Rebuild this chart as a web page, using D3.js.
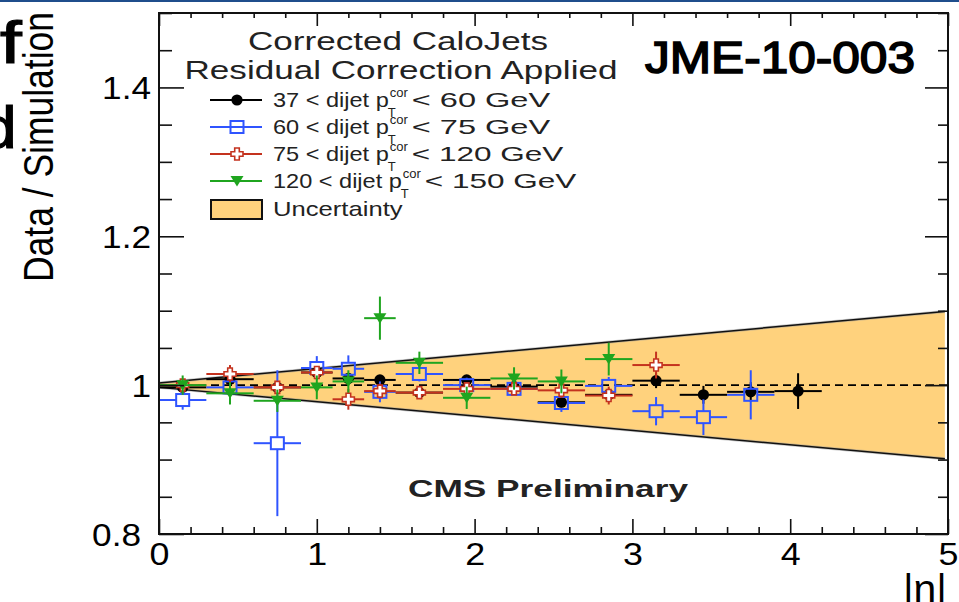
<!DOCTYPE html>
<html><head><meta charset="utf-8">
<script src="https://cdn.jsdelivr.net/npm/d3@7"></script>
<style>
body{margin:0;background:#fff;}
svg{display:block;}
text{font-family:"Liberation Sans",Arial,Helvetica,sans-serif;}
</style>
</head><body>
<svg id="c" width="959" height="602"></svg>
<script>
// ---------------- data ----------------
const etaBins       = [0.15,0.45,0.75,1.0,1.2,1.4,1.65,1.95,2.25,2.55,2.85,3.15,3.45,3.75,4.05];
const etaHalfWidth  = [0.15,0.15,0.15,0.1,0.1,0.1,0.15,0.15,0.15,0.15,0.15,0.15,0.15,0.15,0.15];

const pt37to60   = [0.997,1.008,0.997,1.017,1.009,1.007,0.990,1.007,0.998,0.977,0.987,1.006,0.987,0.991,0.992];
const pt37to60E  = [0.004,0.004,0.005,0.005,0.005,0.006,0.006,0.006,0.006,0.007,0.008,0.010,0.012,0.013,0.024];
const pt60to75   = [0.980,0.997,0.922,1.023,1.022,0.991,1.015,1.000,0.995,0.976,0.999,0.965,0.957,0.987,null];
const pt60to75E  = [0.013,0.010,0.098,0.016,0.018,0.014,0.010,0.010,0.008,0.012,0.012,0.019,0.024,0.033,null];
const pt75to120  = [1.000,1.015,0.997,1.017,0.981,0.992,0.990,0.995,0.995,0.993,0.986,1.027,null,null,null];
const pt75to120E = [0.005,0.012,0.006,0.008,0.014,0.010,0.007,0.008,0.008,0.010,0.012,0.018,null,null,null];
const pt120to150 = [1.000,0.989,0.979,0.997,1.005,1.090,1.030,0.983,1.009,1.005,1.035,null,null,null,null];
const pt120to150E= [0.013,0.015,0.015,0.016,0.015,0.029,0.015,0.015,0.015,0.016,0.022,null,null,null,null];

const bandEta   = [0, 4.98];
const bandUpper = [1.003, 1.099];
const bandLower = [0.997, 0.901];

const xTickLabels = [0,1,2,3,4,5];
const yTickLabels = [0.8,1,1.2,1.4];

const seriesNames = ["37 < dijet p", "60 < dijet p", "75 < dijet p", "120 < dijet p"];
const seriesTails = ["< 60 GeV", "< 75 GeV", "< 120 GeV", "< 150 GeV"];

// ---------------- layout ----------------
const W=959,H=602;
const X0=159,X1=948,Y0=13,Y1=534;
const x=d3.scaleLinear().domain([0,5]).range([X0,X1]);
const y=d3.scaleLinear().domain([0.8,1.5]).range([Y1,Y0]);
const svg=d3.select("#c");
const BAND="#ffd27d";
const COLORS=["#000000","#2f54ff","#c4321e","#1fa51f"];
const MARKERS=["circle","square","cross","tri"];

function stretch(sel,k){
  sel.each(function(){
    const w=this.getComputedTextLength();
    d3.select(this).attr("textLength",w*k).attr("lengthAdjust","spacingAndGlyphs");
  });
  return sel;
}
function fitTo(sel,len){ return sel.attr("textLength",len).attr("lengthAdjust","spacingAndGlyphs"); }

svg.append("rect").attr("width",W).attr("height",H).attr("fill","#fff");
svg.append("rect").attr("x",0).attr("y",0).attr("width",W).attr("height",2).attr("fill","#1f4e8c");

// band
const bandPts=bandEta.map((e,i)=>({e,u:bandUpper[i],l:bandLower[i]}));
svg.append("path").datum(bandPts)
  .attr("d",d3.area().x(d=>x(d.e)).y0(d=>y(d.l)).y1(d=>y(d.u)))
  .attr("fill",BAND);
["u","l"].forEach(k=>{
  svg.append("path").datum(bandPts)
    .attr("d",d3.line().x(d=>x(d.e)).y(d=>y(d[k])))
    .attr("fill","none").attr("stroke","#999").attr("stroke-width",3).attr("opacity",0.5);
  svg.append("path").datum(bandPts)
    .attr("d",d3.line().x(d=>x(d.e)).y(d=>y(d[k])))
    .attr("fill","none").attr("stroke","#111").attr("stroke-width",1.5);
});

// dashed unity line
svg.append("line").attr("x1",x(0)).attr("x2",x(5)).attr("y1",y(1)).attr("y2",y(1))
  .attr("stroke","#000").attr("stroke-width",1.6).attr("stroke-dasharray","8,5");

// markers
function drawMarker(g,type,color,cx,cy){
  if(type==="circle"){
    g.append("circle").attr("cx",cx).attr("cy",cy).attr("r",5.6).attr("fill",color);
  } else if(type==="square"){
    g.append("rect").attr("x",cx-6.5).attr("y",cy-6).attr("width",13).attr("height",12)
      .attr("fill","none").attr("stroke",color).attr("stroke-width",2);
  } else if(type==="cross"){
    const p="M-2.3,-6h4.6v3.7h3.7v4.6h-3.7v3.7h-4.6v-3.7h-3.7v-4.6h3.7z";
    g.append("path").attr("d",p).attr("transform",`translate(${cx},${cy})`)
      .attr("fill","#fff").attr("stroke",color).attr("stroke-width",1.6);
  } else {
    g.append("path").attr("d","M-6.5,-5L6.5,-5L0,5.5Z").attr("transform",`translate(${cx},${cy})`)
      .attr("fill",color);
  }
}
const GAP={circle:0,square:6.5,cross:6,tri:0};

const allSeries=[
  {v:pt37to60,e:pt37to60E},
  {v:pt60to75,e:pt60to75E},
  {v:pt75to120,e:pt75to120E},
  {v:pt120to150,e:pt120to150E}
];
allSeries.forEach((s,si)=>{
  const g=svg.append("g");
  const col=COLORS[si], mk=MARKERS[si], gap=GAP[mk];
  const pts=etaBins.map((e,i)=>({e,hw:etaHalfWidth[i],v:s.v[i],err:s.e[i]})).filter(d=>d.v!=null);
  pts.forEach(d=>{
    const cx=x(d.e), cy=y(d.v);
    const gx=gap, gy=gap>0?gap-0.5:0;
    g.append("line").attr("x1",x(d.e-d.hw)).attr("x2",cx-gx).attr("y1",cy).attr("y2",cy).attr("stroke",col).attr("stroke-width",2);
    g.append("line").attr("x1",cx+gx).attr("x2",x(d.e+d.hw)).attr("y1",cy).attr("y2",cy).attr("stroke",col).attr("stroke-width",2);
    if(y(d.v+d.err)<cy-gy) g.append("line").attr("x1",cx).attr("x2",cx).attr("y1",y(d.v+d.err)).attr("y2",cy-gy).attr("stroke",col).attr("stroke-width",2);
    if(y(d.v-d.err)>cy+gy) g.append("line").attr("x1",cx).attr("x2",cx).attr("y1",cy+gy).attr("y2",y(d.v-d.err)).attr("stroke",col).attr("stroke-width",2);
    drawMarker(g,mk,col,cx,cy);
  });
});

// frame
svg.append("rect").attr("x",X0).attr("y",Y0).attr("width",X1-X0).attr("height",Y1-Y0)
  .attr("fill","none").attr("stroke","#111").attr("stroke-width",2);

// ticks via d3 axes
const xMaj=xTickLabels, xMin=d3.range(0,5.001,0.2).filter(v=>Math.abs(v-Math.round(v))>1e-6);
const yMaj=yTickLabels, yMin=d3.range(0.8,1.5001,0.05).filter(v=>!yMaj.some(m=>Math.abs(m-v)<1e-6));
function tickAxis(axis,tr){
  const g=svg.append("g").attr("transform",tr).call(axis);
  g.select(".domain").remove();
  g.selectAll(".tick line").attr("stroke","#111").attr("stroke-width",1.6);
  g.selectAll("text").remove();
}
tickAxis(d3.axisTop(x).tickValues(xMaj).tickSize(15).tickFormat(""),`translate(0,${Y1})`);
tickAxis(d3.axisTop(x).tickValues(xMin).tickSize(7).tickFormat(""),`translate(0,${Y1})`);
tickAxis(d3.axisBottom(x).tickValues(xMaj).tickSize(13).tickFormat(""),`translate(0,${Y0})`);
tickAxis(d3.axisBottom(x).tickValues(xMin).tickSize(5).tickFormat(""),`translate(0,${Y0})`);
tickAxis(d3.axisRight(y).tickValues(yMaj).tickSize(25).tickFormat(""),`translate(${X0},0)`);
tickAxis(d3.axisRight(y).tickValues(yMin).tickSize(13).tickFormat(""),`translate(${X0},0)`);
tickAxis(d3.axisLeft(y).tickValues(yMaj).tickSize(23).tickFormat(""),`translate(${X1},0)`);
tickAxis(d3.axisLeft(y).tickValues(yMin).tickSize(10).tickFormat(""),`translate(${X1},0)`);

// tick labels
const xl=svg.append("g").attr("transform",`translate(0,${Y1})`)
  .call(d3.axisBottom(x).tickValues(xTickLabels).tickSize(0).tickFormat(d3.format("d")));
xl.select(".domain").remove();
xl.selectAll("text").attr("font-size",32).attr("fill","#000").attr("y",8).attr("dy","0.71em")
  .attr("font-family","Liberation Sans, Arial, sans-serif");
stretch(xl.selectAll("text"),1.12);

const yl=svg.append("g").attr("transform",`translate(${X0},0)`)
  .call(d3.axisLeft(y).tickValues(yTickLabels).tickSize(0).tickFormat(d=>d===1?"1":d3.format(".1f")(d)));
yl.select(".domain").remove();
yl.selectAll("text").attr("font-size",32).attr("fill","#000").attr("x",-8).attr("dy","0.36em")
  .attr("font-family","Liberation Sans, Arial, sans-serif");
yl.selectAll("text").filter(d=>d===0.8).attr("x",-18);
stretch(yl.selectAll("text"),1.1);

// axis titles
svg.append("text").attr("transform","translate(53,147) scale(1.3,1) rotate(-90)")
  .attr("text-anchor","middle").attr("font-size",33).attr("fill","#000")
  .text("Data / Simulation").call(fitTo,270);
svg.append("text").attr("x",947).attr("y",603).attr("text-anchor","end")
  .attr("font-size",40).attr("fill","#000").text("|η|").call(fitTo,44);

// slide fragments
svg.append("text").attr("transform","translate(0,63) scale(1.3,1)").attr("font-family","DejaVu Sans")
  .attr("font-size",60).attr("fill","#000").attr("stroke","#000").attr("stroke-width",1.2).text("f");
svg.append("text").attr("transform","translate(-20,148) scale(1.1,1)").attr("font-family","DejaVu Sans")
  .attr("font-size",60).attr("fill","#000").attr("stroke","#000").attr("stroke-width",1.2).text("d");

// JME label
svg.append("text").attr("x",645).attr("y",73).attr("font-family","DejaVu Sans")
  .attr("font-size",44).attr("fill","#000").attr("stroke","#000").attr("stroke-width",1.6)
  .text("JME-10-003").call(fitTo,270);

// CMS Preliminary
svg.append("text").attr("x",408).attr("y",497).attr("font-weight","bold")
  .attr("font-size",24).attr("fill","#222").text("CMS Preliminary").call(fitTo,280);

// legend header
svg.append("text").attr("x",398).attr("y",50).attr("text-anchor","middle")
  .attr("font-size",25).attr("fill","#222").text("Corrected CaloJets").call(fitTo,300);
svg.append("text").attr("x",401).attr("y",79).attr("text-anchor","middle")
  .attr("font-size",25).attr("fill","#222").text("Residual Correction Applied").call(fitTo,433);

// legend entries
const rowY=[100,127,154,181];
const tailStretch=[1.55,1.55,1.5,1.5];
seriesNames.forEach((nm,i)=>{
  const cy=rowY[i], col=COLORS[i];
  svg.append("line").attr("x1",210).attr("x2",262).attr("y1",cy).attr("y2",cy).attr("stroke",col).attr("stroke-width",2);
  drawMarker(svg,MARKERS[i],col,237,cy);
  const t1=svg.append("text").attr("x",273).attr("y",cy+7).attr("font-size",21).attr("fill","#222").text(nm);
  stretch(t1,1.12);
  const w1=+t1.attr("textLength");
  const sx=273+w1;
  svg.append("text").attr("x",sx+1).attr("y",cy-3).attr("font-size",13).attr("fill","#222").text("cor");
  svg.append("text").attr("x",sx-1).attr("y",cy+17).attr("font-size",13).attr("fill","#222").text("T");
  const t2=svg.append("text").attr("x",sx+23).attr("y",cy+7).attr("font-size",21).attr("fill","#222").text(seriesTails[i]);
  stretch(t2,tailStretch[i]);
});
svg.append("rect").attr("x",211).attr("y",200).attr("width",51).attr("height",19)
  .attr("fill",BAND).attr("stroke","#111").attr("stroke-width",2);
const tu=svg.append("text").attr("x",273).attr("y",216).attr("font-size",21).attr("fill","#222").text("Uncertainty");
stretch(tu,1.22);
</script>
</body></html>
